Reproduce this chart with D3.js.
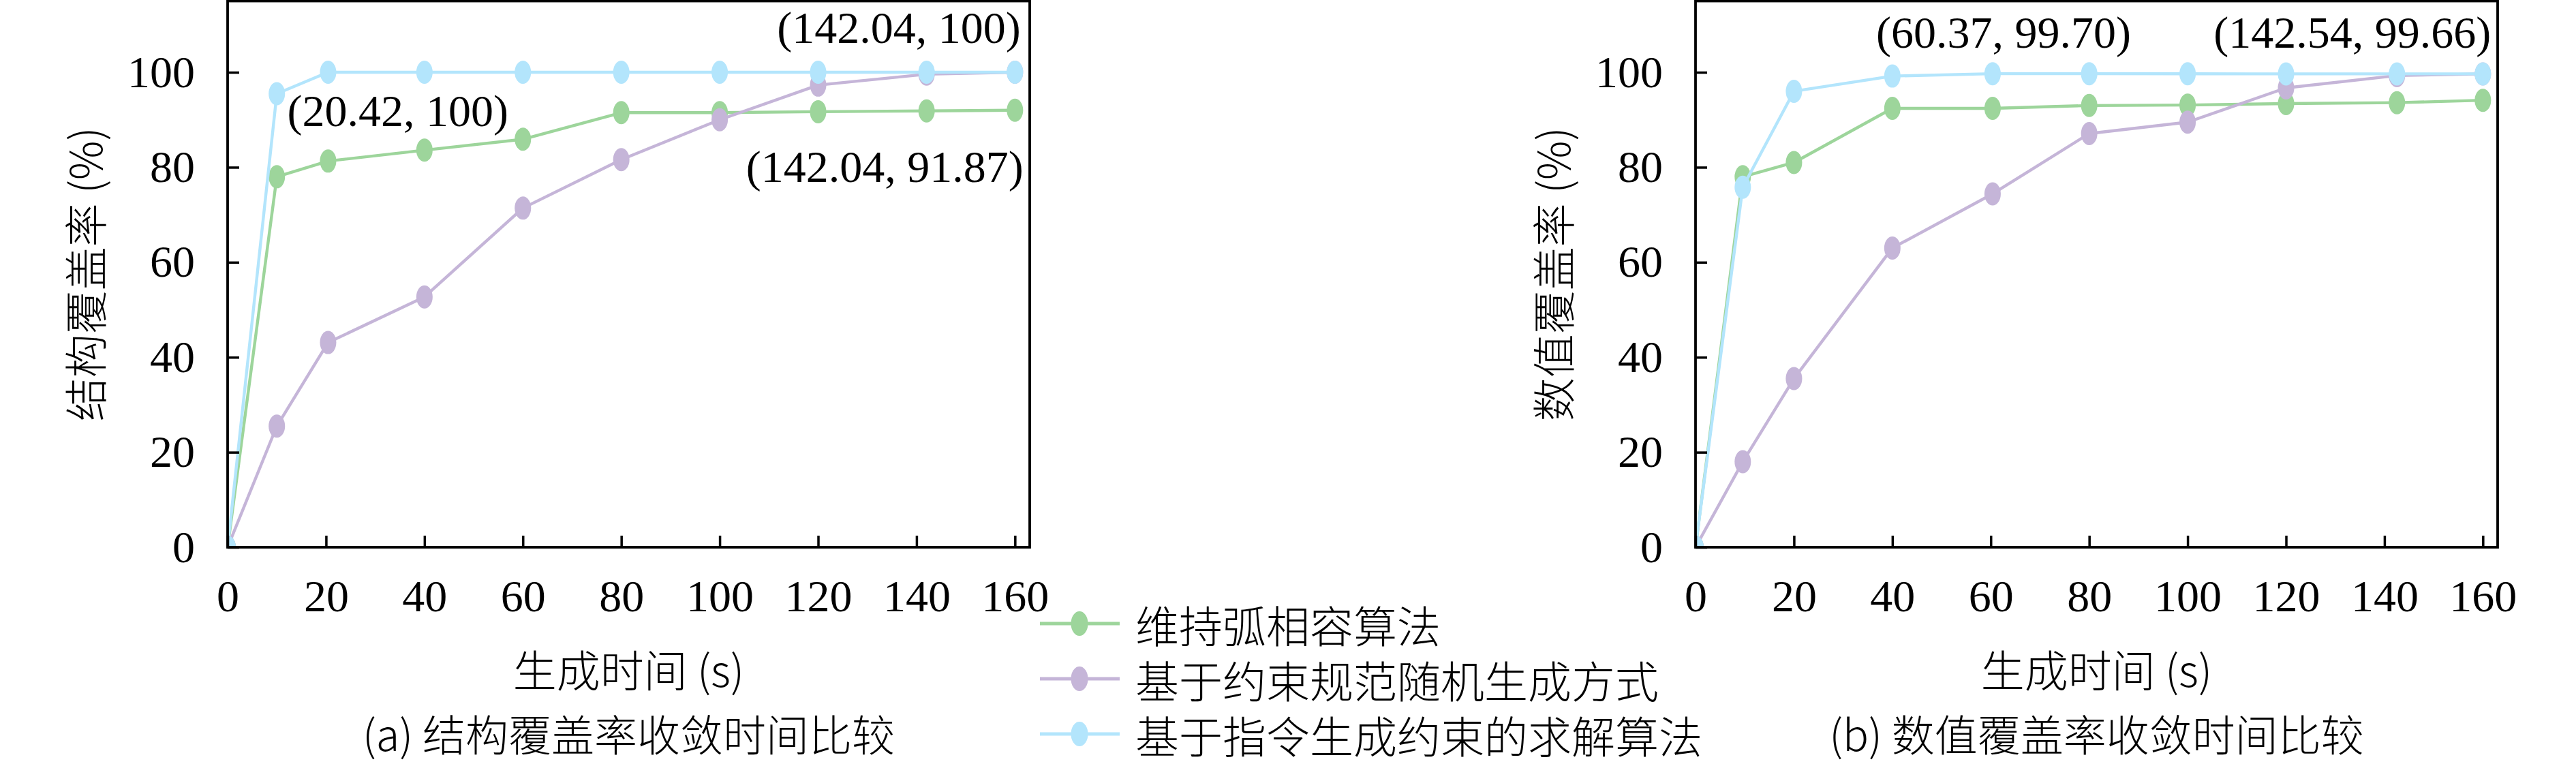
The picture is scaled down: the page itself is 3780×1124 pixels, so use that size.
<!DOCTYPE html>
<html>
<head>
<meta charset="utf-8">
<script src="https://cdn.jsdelivr.net/npm/d3@7"></script>
<style>
  html, body { margin: 0; padding: 0; background: #fff; }
  svg { display: block; }
  .num { font-family: "Liberation Serif", "DejaVu Serif", serif; }
  .cjk { font-family: "Noto Sans CJK SC", sans-serif; font-weight: 300; }
</style>
</head>
<body>
<div id="chart"></div>
<script>
// series names (legend order)
var seriesNames = ["维持弧相容算法", "基于约束规范随机生成方式", "基于指令生成约束的求解算法"];
var seriesColors = ["#9dd59b", "#c5b5d8", "#b3e5fc"];

// (a) structure coverage
var timeA = [0, 10, 20.42, 40, 60, 80, 100, 120, 142.04, 160];
var arcA = [0, 78.0, 81.3, 83.6, 85.9, 91.5, 91.5, 91.7, 91.87, 92.0];
var randA = [0, 25.5, 43.1, 52.7, 71.4, 81.6, 90.0, 97.3, 99.6, 100];
var instrA = [0, 95.5, 100, 100, 100, 100, 100, 100, 100, 100];

// (b) value coverage
var timeB = [0, 9.6, 20, 40, 60.37, 80, 100, 120, 142.54, 160];
var arcB = [0, 78.0, 81.0, 92.4, 92.4, 93.0, 93.1, 93.4, 93.6, 94.1];
var randB = [0, 18.0, 35.5, 63.0, 74.4, 87.1, 89.5, 96.7, 99.3, 99.66];
var instrB = [0, 75.8, 96.0, 99.2, 99.70, 99.70, 99.68, 99.66, 99.66, 99.66];

var xTicks = [0, 20, 40, 60, 80, 100, 120, 140, 160];
var yTicks = [0, 20, 40, 60, 80, 100];

var W = 3780, H = 1124;
var svg = d3.select("#chart").append("svg")
  .attr("width", W).attr("height", H)
  .style("background", "#fff");

function drawPanel(opt) {
  var left = opt.left, right = opt.left + 1177, top = 1.5, bottom = 803;
  var x = d3.scaleLinear().domain([0, 163]).range([left, right]);
  var y = d3.scaleLinear().domain([0, 115]).range([bottom, top]);

  var clipId = "clip" + opt.id;
  svg.append("clipPath").attr("id", clipId)
    .append("rect")
    .attr("x", left).attr("y", top)
    .attr("width", right - left).attr("height", bottom - top);

  var g = svg.append("g").attr("clip-path", "url(#" + clipId + ")");

  var line = d3.line()
    .x(function (d) { return x(d[0]); })
    .y(function (d) { return y(d[1]); });

  opt.series.forEach(function (vals, i) {
    var pts = opt.time.map(function (t, j) { return [t, vals[j]]; });
    g.append("path")
      .datum(pts)
      .attr("fill", "none")
      .attr("stroke", seriesColors[i])
      .attr("stroke-width", 4.4)
      .attr("stroke-linejoin", "round")
      .attr("d", line);
    g.selectAll(".m" + i).data(pts).enter()
      .append("ellipse")
      .attr("class", "m" + i)
      .attr("cx", function (d) { return x(d[0]); })
      .attr("cy", function (d) { return y(d[1]); })
      .attr("rx", 12)
      .attr("ry", 17)
      .attr("fill", seriesColors[i]);
  });

  // axes, ticks pointing inward
  var xAxis = svg.append("g")
    .attr("transform", "translate(0," + bottom + ")")
    .call(d3.axisBottom(x).tickValues(xTicks).tickSizeInner(-17).tickSizeOuter(0).tickPadding(47));
  var yAxis = svg.append("g")
    .attr("transform", "translate(" + left + ",0)")
    .call(d3.axisLeft(y).tickValues(yTicks).tickSizeInner(-17).tickSizeOuter(0).tickPadding(48));

  [xAxis, yAxis].forEach(function (ax) {
    ax.select(".domain").remove();
    ax.selectAll(".tick line").attr("stroke", "#000").attr("stroke-width", 3.5);
    ax.selectAll(".tick text")
      .attr("class", "num")
      .attr("fill", "#000")
      .style("font-size", "66px");
  });

  // frame
  svg.append("rect")
    .attr("x", left).attr("y", top)
    .attr("width", right - left).attr("height", bottom - top)
    .attr("fill", "none")
    .attr("stroke", "#000")
    .attr("stroke-width", 3.8);

  // annotations
  opt.notes.forEach(function (n) {
    svg.append("text")
      .attr("class", "num")
      .attr("x", x(n.t) + n.dx)
      .attr("y", y(n.v) + n.dy)
      .attr("text-anchor", n.anchor)
      .style("font-size", "66px")
      .text(n.label);
  });

  // y label
  var cx = left - 212, cy = (top + bottom) / 2;
  svg.append("text")
    .attr("class", "cjk")
    .attr("transform", "translate(" + cx + "," + cy + ") rotate(-90)")
    .attr("text-anchor", "middle")
    .attr("dominant-baseline", "central")
    .style("font-size", "64px")
    .text(opt.yLabel);

  // x label
  svg.append("text")
    .attr("class", "cjk")
    .attr("x", (left + right) / 2)
    .attr("y", 980)
    .attr("text-anchor", "middle")
    .attr("dominant-baseline", "central")
    .style("font-size", "64px")
    .text("生成时间 (s)");

  // caption
  svg.append("text")
    .attr("class", "cjk")
    .attr("x", (left + right) / 2)
    .attr("y", 1074)
    .attr("text-anchor", "middle")
    .attr("dominant-baseline", "central")
    .style("font-size", "63px")
    .text(opt.caption);
}

drawPanel({
  id: "a", left: 334, time: timeA,
  series: [arcA, randA, instrA],
  yLabel: "结构覆盖率 (%)",
  caption: "(a) 结构覆盖率收敛时间比较",
  notes: [
    { t: 20.42, v: 100, dx: -60, dy: 79, anchor: "start", label: "(20.42, 100)" },
    { t: 142.04, v: 100, dx: 138, dy: -43, anchor: "end", label: "(142.04, 100)" },
    { t: 142.04, v: 91.87, dx: 142, dy: 104, anchor: "end", label: "(142.04, 91.87)" }
  ]
});

drawPanel({
  id: "b", left: 2488, time: timeB,
  series: [arcB, randB, instrB],
  yLabel: "数值覆盖率 (%)",
  caption: "(b) 数值覆盖率收敛时间比较",
  notes: [
    { t: 60.37, v: 99.70, dx: 16, dy: -38, anchor: "middle", label: "(60.37, 99.70)" },
    { t: 142.54, v: 99.66, dx: 138, dy: -38, anchor: "end", label: "(142.54, 99.66)" }
  ]
});

// legend
var legend = svg.append("g");
seriesNames.forEach(function (name, i) {
  var ly = 915 + i * 81;
  legend.append("line")
    .attr("x1", 1526).attr("x2", 1643)
    .attr("y1", ly).attr("y2", ly)
    .attr("stroke", seriesColors[i])
    .attr("stroke-width", 5);
  legend.append("ellipse")
    .attr("cx", 1584).attr("cy", ly)
    .attr("rx", 12.5).attr("ry", 18)
    .attr("fill", seriesColors[i]);
  legend.append("text")
    .attr("class", "cjk")
    .attr("x", 1666).attr("y", ly)
    .attr("dominant-baseline", "central")
    .style("font-size", "64px")
    .text(name);
});
</script>
</body>
</html>
